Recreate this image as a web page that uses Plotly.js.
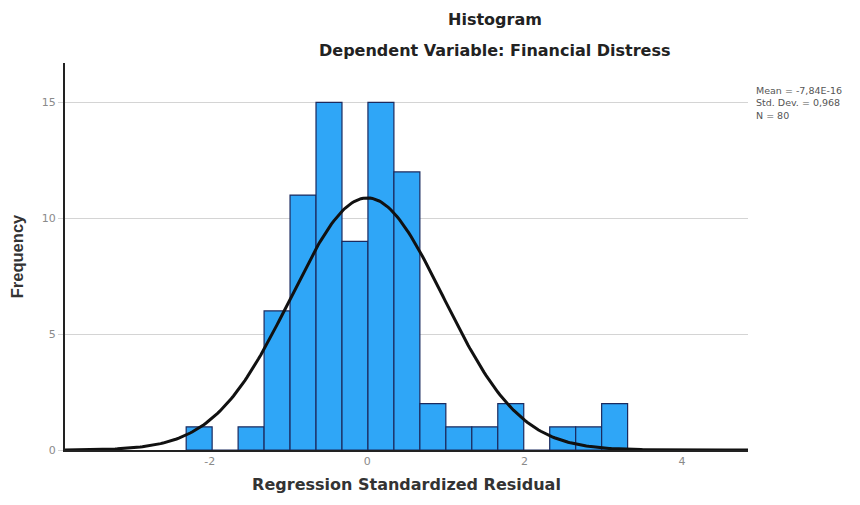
<!DOCTYPE html>
<html>
<head>
<meta charset="utf-8">
<script src="https://cdn.plot.ly/plotly-3.0.1.min.js"></script>
<style>html,body{margin:0;padding:0;background:#fff;}#chart{width:860px;height:505px;}</style>
</head>
<body>
<div id="chart"></div>
<script>
// Histogram bins (lower edges) and frequencies
const binLower = [-2.30, -1.97, -1.64, -1.31, -0.98, -0.65, -0.32, 0.01, 0.34, 0.67, 1.00, 1.33, 1.66, 1.99, 2.32, 2.65, 2.98];
const binWidth = 0.33;
const frequency = [1, 0, 1, 6, 11, 15, 9, 15, 12, 2, 1, 1, 2, 0, 1, 1, 2];
// Summary statistics
const statMean = -7.84e-16;
const statSD = 0.968;
const statN = 80;
const statLabels = ["Mean = -7,84E-16", "Std. Dev. = 0,968", "N = 80"];
const xTicks = [-2, 0, 2, 4];
const yTicks = [0, 5, 10, 15];

const centers = binLower.map(v => v + binWidth / 2);

// Fitted normal curve scaled to counts
const xr = [-3.84, 4.84];
const cx = [], cy = [];
for (let i = 0; i <= 300; i++) {
  const x = xr[0] + (xr[1] - xr[0]) * i / 300;
  const z = (x - statMean) / statSD;
  cx.push(x);
  cy.push(statN * binWidth * Math.exp(-0.5 * z * z) / (statSD * Math.sqrt(2 * Math.PI)));
}

const data = [
  {
    type: 'bar', x: centers, y: frequency, width: binWidth,
    marker: {color: '#2fa6f7', line: {color: '#1b2a5e', width: 1.2}},
    hoverinfo: 'x+y'
  },
  {
    type: 'scatter', mode: 'lines', x: cx, y: cy,
    line: {color: '#111111', width: 3}, hoverinfo: 'skip'
  }
];

const boldWide = 'DejaVu Sans, sans-serif';
const plotH = 505 - 63 - 55;
const pyPaper = py => (450 - py) / plotH;

const layout = {
  width: 860, height: 505,
  paper_bgcolor: '#ffffff', plot_bgcolor: '#ffffff',
  showlegend: false,
  margin: {l: 65, r: 112, t: 63, b: 55},
  font: {family: 'DejaVu Sans, sans-serif', color: '#333'},
  title: {
    text: '<b>Histogram</b>', xref: 'container', x: 495 / 860, xanchor: 'center',
    y: 1 - 19 / 505, yanchor: 'middle',
    font: {size: 16, color: '#222', family: boldWide}
  },
  xaxis: {
    range: xr, tickvals: xTicks, ticktext: xTicks.map(String),
    showgrid: false, zeroline: false, showline: true, linecolor: '#222', linewidth: 2,
    ticks: '', tickfont: {size: 11, color: '#8a8a8a', family: 'DejaVu Sans, sans-serif'},
    title: {text: '<b>Regression Standardized Residual</b>', standoff: 12,
            font: {size: 16, color: '#333', family: boldWide}}
  },
  yaxis: {
    range: [0, 16.7], tickvals: yTicks, ticktext: yTicks.map(String),
    showgrid: true, gridcolor: '#d4d4d4', gridwidth: 1,
    zeroline: false, showline: true, linecolor: '#222', linewidth: 2,
    ticks: 'outside', ticklen: 5, tickcolor: '#d4d4d4',
    tickfont: {size: 11, color: '#8a8a8a', family: 'DejaVu Sans, sans-serif'},
    title: {text: '<b>Frequency</b>', standoff: 14,
            font: {size: 16.5, color: '#333', family: 'Liberation Sans, Arial, sans-serif'}}
  },
  annotations: [
    {
      text: '<b>Dependent Variable: Financial Distress</b>', xref: 'paper', yref: 'paper',
      x: (495 - 65) / 683, y: pyPaper(51), xanchor: 'center', yanchor: 'middle', showarrow: false,
      font: {size: 16, color: '#222', family: boldWide}
    },
    {
      text: statLabels.join('<br>'), xref: 'paper', yref: 'paper',
      x: (755 - 65) / 683, y: pyPaper(103), xanchor: 'left', yanchor: 'middle',
      align: 'left', showarrow: false, borderpad: 0,
      font: {size: 9.5, color: '#555', family: 'DejaVu Sans, sans-serif'}
    }
  ]
};

Plotly.newPlot('chart', data, layout, {displayModeBar: false, staticPlot: true});
</script>
</body>
</html>
